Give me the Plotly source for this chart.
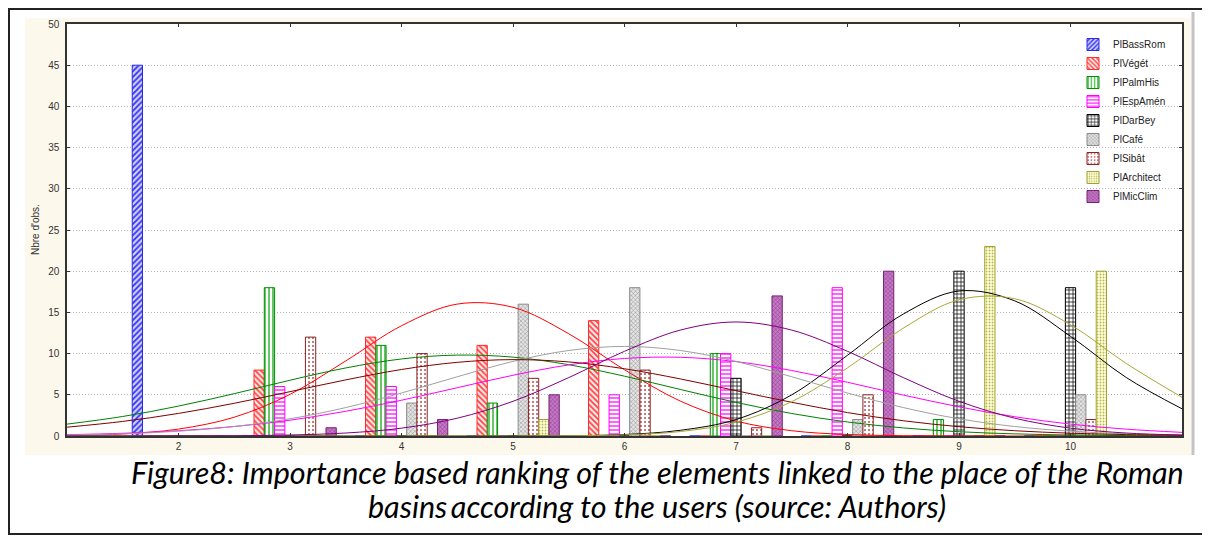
import plotly.graph_objects as go

# ---------------- data ----------------
categories = [2, 3, 4, 5, 6, 7, 8, 9, 10]
series_names = ["PlBassRom", "PlVégét", "PlPalmHis", "PlEspAmén", "PlDarBey",
                "PlCafé", "PlSibât", "PlArchitect", "PlMicClim"]

pl_bass_rom  = [45, 0, 0, 0, 0, 0, 0, 0, 0]
pl_veget     = [0, 8, 12, 11, 14, 0, 0, 0, 0]
pl_palm_his  = [0, 18, 11, 4, 0, 10, 0, 2, 0]
pl_esp_amen  = [0, 6, 6, 0, 5, 10, 18, 0, 0]
pl_dar_bey   = [0, 0, 0, 0, 0, 7, 0, 20, 18]
pl_cafe      = [0, 0, 4, 16, 18, 0, 2, 0, 5]
pl_sibat     = [0, 12, 10, 7, 8, 1, 5, 0, 2]
pl_architect = [0, 0, 0, 2, 0, 0, 0, 23, 20]
pl_mic_clim  = [0, 1, 2, 5, 0, 17, 20, 0, 0]

# fitted normal curves at these x positions
curve_x = [1, 1.5, 2, 2.5, 3, 3.5, 4, 4.5, 5, 5.5, 6, 6.5, 7, 7.5, 8, 8.5, 9, 9.5, 10, 10.5, 11]
curve_veget     = [0.06, 0.25, 0.84, 2.28, 5.05, 9.11, 13.38, 16.01, 15.62, 12.41, 8.04, 4.24, 1.82, 0.64, 0.18, 0.04, 0.01, 0, 0, 0, 0]
curve_palm_his  = [1.44, 2.37, 3.63, 5.14, 6.77, 8.26, 9.35, 9.82, 9.57, 8.65, 7.26, 5.65, 4.08, 2.73, 1.70, 0.98, 0.52, 0.26, 0.12, 0.05, 0.02]
curve_esp_amen  = [0.16, 0.33, 0.64, 1.15, 1.92, 3.00, 4.34, 5.86, 7.37, 8.63, 9.41, 9.55, 9.03, 7.95, 6.52, 4.97, 3.54, 2.34, 1.44, 0.83, 0.44]
curve_dar_bey   = [0, 0, 0, 0, 0, 0, 0, 0, 0.01, 0.03, 0.18, 0.69, 2.0, 5.0, 9.8, 14.8, 17.6, 16.4, 12.1, 7.1, 3.3]
curve_cafe      = [0.11, 0.26, 0.58, 1.15, 2.09, 3.45, 5.22, 7.19, 9.05, 10.38, 10.87, 10.38, 9.05, 7.19, 5.22, 3.45, 2.09, 1.15, 0.58, 0.26, 0.11]
curve_sibat     = [1.07, 1.77, 2.74, 3.97, 5.38, 6.81, 8.07, 8.94, 9.27, 8.99, 8.16, 6.93, 5.50, 4.09, 2.84, 1.85, 1.13, 0.64, 0.34, 0.17, 0.08]
curve_architect = [0, 0, 0, 0, 0, 0, 0, 0, 0, 0.03, 0.14, 0.54, 1.67, 4.17, 8.27, 13.09, 16.53, 16.66, 13.5, 8.8, 4.7]
curve_mic_clim  = [0, 0, 0.01, 0.03, 0.12, 0.36, 0.95, 2.16, 4.21, 7.09, 10.28, 12.85, 13.84, 12.85, 10.28, 7.09, 4.21, 2.16, 0.95, 0.36, 0.12]

y_ticks = [0, 5, 10, 15, 20, 25, 30, 35, 40, 45, 50]
y_title = "Nbre d'obs."
caption_1 = "Figure8: Importance based ranking of the elements linked to the place of the Roman"
caption_2 = "basins\u2009according to the users (source: Authors)"

bar_values = [pl_bass_rom, pl_veget, pl_palm_his, pl_esp_amen, pl_dar_bey,
              pl_cafe, pl_sibat, pl_architect, pl_mic_clim]
curves = [None, curve_veget, curve_palm_his, curve_esp_amen, curve_dar_bey,
          curve_cafe, curve_sibat, curve_architect, curve_mic_clim]

# ---------------- styles ----------------
bar_styles = [
    # border, pattern shape, fg, bg, size, solidity
    ("#2A2AE8", "/", "#3030F0", "#D0D0FF", 4, 0.45),
    ("#FF2A2A", "\\", "#FF3A3A", "#FFE8E8", 4, 0.4),
    ("#009000", "|", "#00A000", "#FFFFFF", 4, 0.3),
    ("#FF00FF", "-", "#FF20FF", "#FFFFFF", 4, 0.35),
    ("#000000", "+", "#101010", "#FFFFFF", 4, 0.35),
    ("#8C8C8C", "x", "#9A9A9A", "#E4E4E4", 3, 0.35),
    ("#8B2323", ".", "#B05050", "#FFFFFF", 4, 0.2),
    ("#A0A030", ".", "#B8B850", "#FFFFDA", 3, 0.3),
    ("#7A1F7A", "x", "#8A3A8A", "#C478C4", 3, 0.3),
]
curve_colors = [None, "#FF0000", "#008000", "#FF00FF", "#000000",
                "#A0A0A0", "#800000", "#A8A838", "#800080"]

# page offset of the figure inside the browser page (default body margin)
OFF = 8
W, H = 1210, 538
ML, MR, MT, MB = 67 - OFF, W - (1182 - OFF), 24 - OFF, H - (436 - OFF)
PW, PH = W - ML - MR, H - MT - MB


def px(x):
    """page x -> paper x"""
    return (x - OFF - ML) / PW


def py(y):
    """page y -> paper y"""
    return (H - MB - (y - OFF)) / PH


fig = go.Figure()

for name, vals, st in zip(series_names, bar_values, bar_styles):
    border, shp, fg, bg, size, sol = st
    fig.add_trace(go.Bar(
        x=categories, y=vals, name=name,
        marker=dict(color=bg, line=dict(color=border, width=1),
                    pattern=dict(shape=shp, fgcolor=fg, bgcolor=bg,
                                 size=size, solidity=sol, fillmode="replace")),
    ))

for vals, col in zip(curves, curve_colors):
    if vals is None:
        continue
    fig.add_trace(go.Scatter(
        x=curve_x, y=vals, mode="lines",
        line=dict(color=col, width=1, shape="spline"),
        showlegend=False, hoverinfo="skip",
    ))

shapes = [
    # cream panel
    dict(type="rect", xref="paper", yref="paper", layer="below",
         x0=px(25), x1=px(1191), y0=py(455), y1=py(18),
         fillcolor="#FDF8EC", line=dict(width=0)),
    # white plot area
    dict(type="rect", xref="paper", yref="paper", layer="below",
         x0=0, x1=1, y0=0, y1=1, fillcolor="#FFFFFF", line=dict(width=0)),
    # right gray panel edge
    dict(type="line", xref="paper", yref="paper",
         x0=px(1193), x1=px(1193), y0=py(455), y1=py(12),
         line=dict(color="#C4C4C4", width=3)),
    # outer border
    dict(type="rect", xref="paper", yref="paper",
         x0=px(9), x1=px(1205), y0=py(534), y1=py(9),
         line=dict(color="#222222", width=2)),
]

cap_font = dict(family="Lato", size=30.5, color="#000000", style="italic")
annotations = [
    dict(text=y_title, xref="paper", yref="paper", x=px(35), y=py(230),
         textangle=-90, showarrow=False, xanchor="center", yanchor="middle",
         font=dict(family="Liberation Sans, Arial", size=10, color="#333333")),
    dict(text=caption_1, xref="paper", yref="paper", x=px(657), y=py(472),
         showarrow=False, xanchor="center", yanchor="middle", font=cap_font),
    dict(text=caption_2, xref="paper", yref="paper", x=px(657), y=py(506),
         showarrow=False, xanchor="center", yanchor="middle", font=cap_font),
]

fig.update_layout(
    width=W, height=H,
    margin=dict(l=ML, r=MR, t=MT, b=MB, autoexpand=False),
    paper_bgcolor="#FFFFFF", plot_bgcolor="rgba(0,0,0,0)",
    barmode="group", bargap=0.17, bargroupgap=0,
    font=dict(family="Liberation Sans, Arial", size=10, color="#333333"),
    showlegend=True,
    legend=dict(x=px(1073), y=py(30), xanchor="left", yanchor="top",
                bgcolor="rgba(0,0,0,0)", borderwidth=0,
                font=dict(family="Liberation Sans, Arial", size=10, color="#222222"),
                itemwidth=30, traceorder="normal"),
    shapes=shapes, annotations=annotations,
)

fig.update_xaxes(range=[1, 11], tickvals=categories, ticks="inside", ticklen=3,
                 tickcolor="#333333", showline=True, linecolor="#333333", linewidth=1.5,
                 mirror="ticks", showgrid=False, zeroline=False,
                 tickfont=dict(size=10, color="#333333"))
fig.update_yaxes(range=[0, 50], tickvals=y_ticks, ticks="inside", ticklen=3,
                 tickcolor="#333333", showline=True, linecolor="#333333", linewidth=1.5,
                 mirror="ticks", showgrid=True, gridcolor="#B4B4B4", griddash="1px,2px",
                 gridwidth=1, zeroline=False, ticklabelstandoff=4,
                 tickfont=dict(size=10, color="#333333"))

fig.write_html("out.html")
